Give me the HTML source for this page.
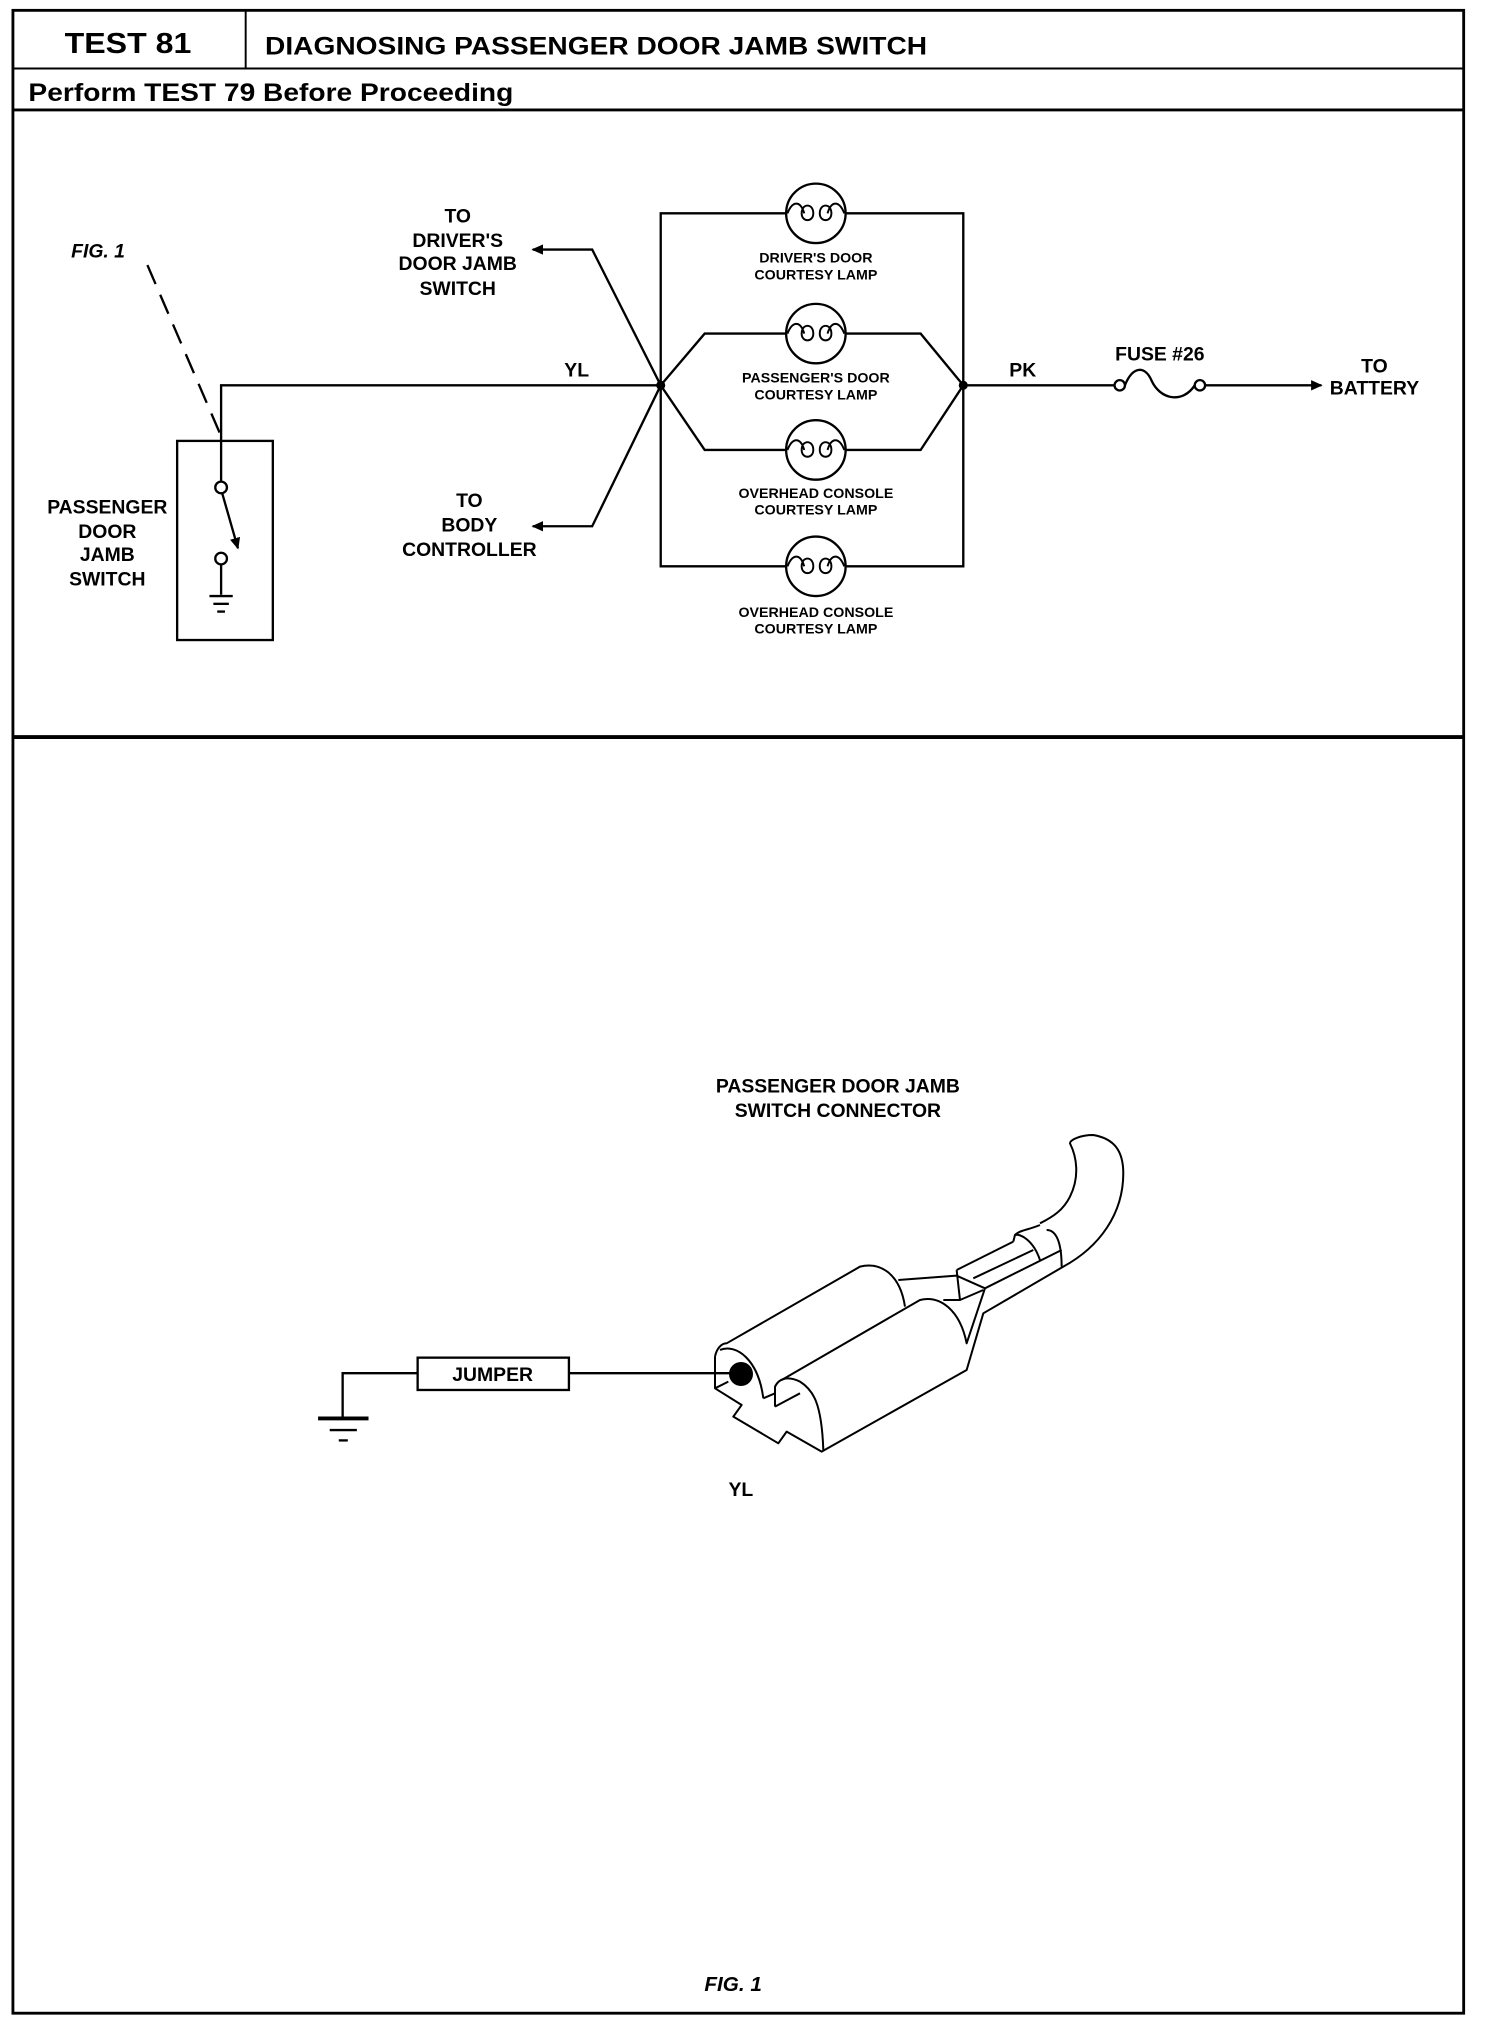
<!DOCTYPE html>
<html><head><meta charset="utf-8"><style>
html,body{margin:0;padding:0;background:#fff;}
svg{display:block;}
text{font-family:"Liberation Sans",sans-serif;font-weight:bold;fill:#000;}
</style></head><body>
<svg width="1504" height="2028" viewBox="0 0 1504 2028" xmlns="http://www.w3.org/2000/svg">
<defs>
<marker id="ah" markerWidth="9" markerHeight="8" refX="8" refY="4" orient="auto" markerUnits="userSpaceOnUse">
<path d="M0,0 L9,4 L0,8 Z" fill="#000"/></marker>
</defs>
<g transform="scale(1.293)">
<!-- frame -->
<rect x="10" y="8" width="1122" height="1549" fill="none" stroke="#000" stroke-width="2.2"/>
<line x1="190" y1="8" x2="190" y2="53" stroke="#000" stroke-width="1.5"/>
<line x1="10" y1="53" x2="1132" y2="53" stroke="#000" stroke-width="1.5"/>
<line x1="10" y1="85" x2="1132" y2="85" stroke="#000" stroke-width="2.2"/>
<line x1="10" y1="570" x2="1132" y2="570" stroke="#000" stroke-width="3"/>
<text x="50" y="41" font-size="22" textLength="98" lengthAdjust="spacingAndGlyphs">TEST 81</text>
<text x="205" y="42" font-size="19" textLength="512" lengthAdjust="spacingAndGlyphs">DIAGNOSING PASSENGER DOOR JAMB SWITCH</text>
<text x="22" y="78" font-size="19" textLength="375" lengthAdjust="spacingAndGlyphs">Perform TEST 79 Before Proceeding</text>

<g stroke="#000" stroke-width="1.8" fill="none">
<rect x="137" y="341" width="74" height="154"/>
<polyline points="511,298 171,298 171,372"/>
<circle cx="171" cy="377" r="4.5"/>
<line x1="172" y1="382" x2="184" y2="424" marker-end="url(#ah)"/>
<circle cx="171" cy="432" r="4.5"/>
<line x1="171" y1="437" x2="171" y2="460"/>
<line x1="162" y1="461" x2="180" y2="461"/>
<line x1="165" y1="467" x2="177" y2="467"/>
<line x1="168" y1="473" x2="174" y2="473"/>
<line x1="114" y1="205" x2="170" y2="335" stroke-dasharray="16,9"/>
<polyline points="511,298 458,193 412,193" marker-end="url(#ah)"/>
<polyline points="511,298 458,407 412,407" marker-end="url(#ah)"/>
<polyline points="608,165 511,165 511,438 608,438"/>
<polyline points="654,165 745,165 745,438 654,438"/>
<polyline points="608,258 545,258 511,298 545,348 608,348"/>
<polyline points="654,258 712,258 745,298 712,348 654,348"/>
<line x1="745" y1="298" x2="862" y2="298"/>
<circle cx="866" cy="298" r="4"/>
<circle cx="928" cy="298" r="4"/>
<path d="M870,298 C876,283 885,283 890,293 C897,310 915,312 924,298"/>
<line x1="932" y1="298" x2="1022" y2="298" marker-end="url(#ah)"/>
</g>
<g fill="#000"><circle cx="511" cy="298" r="3.5"/><circle cx="745" cy="298" r="3.5"/></g>
<g stroke="#000" stroke-width="1.8" fill="#fff">
<circle cx="631" cy="165" r="23"/><circle cx="631" cy="258" r="23"/>
<circle cx="631" cy="348" r="23"/><circle cx="631" cy="438" r="23"/>
</g>
<g stroke="#000" stroke-width="1.5" fill="none">
<path d="M609,165 C613,155 619,155 622,165 M620,165 C620,157 629,157 629,165 C629,172 620,172 620,165 M634,165 C634,157 643,157 643,165 C643,172 634,172 634,165 M640,165 C643,155 649,155 653,165"/>
<path d="M609,258 C613,248 619,248 622,258 M620,258 C620,250 629,250 629,258 C629,265 620,265 620,258 M634,258 C634,250 643,250 643,258 C643,265 634,265 634,258 M640,258 C643,248 649,248 653,258"/>
<path d="M609,348 C613,338 619,338 622,348 M620,348 C620,340 629,340 629,348 C629,355 620,355 620,348 M634,348 C634,340 643,340 643,348 C643,355 634,355 634,348 M640,348 C643,338 649,338 653,348"/>
<path d="M609,438 C613,428 619,428 622,438 M620,438 C620,430 629,430 629,438 C629,445 620,445 620,438 M634,438 C634,430 643,430 643,438 C643,445 634,445 634,438 M640,438 C643,428 649,428 653,438"/>
</g>
<g font-size="11" text-anchor="middle">
<text x="631" y="203">DRIVER'S DOOR</text><text x="631" y="216">COURTESY LAMP</text>
<text x="631" y="296">PASSENGER'S DOOR</text><text x="631" y="309">COURTESY LAMP</text>
<text x="631" y="385">OVERHEAD CONSOLE</text><text x="631" y="398">COURTESY LAMP</text>
<text x="631" y="477">OVERHEAD CONSOLE</text><text x="631" y="490">COURTESY LAMP</text>
</g>
<g font-size="15" text-anchor="middle">
<text x="354" y="172">TO</text><text x="354" y="191">DRIVER'S</text><text x="354" y="209">DOOR JAMB</text><text x="354" y="228">SWITCH</text>
<text x="363" y="392">TO</text><text x="363" y="411">BODY</text><text x="363" y="430">CONTROLLER</text>
<text x="83" y="397">PASSENGER</text><text x="83" y="416">DOOR</text><text x="83" y="434">JAMB</text><text x="83" y="453">SWITCH</text>
<text x="446" y="291">YL</text><text x="791" y="291">PK</text>
<text x="897" y="279">FUSE #26</text>
<text x="1063" y="288">TO</text><text x="1063" y="305">BATTERY</text>
</g>
<text x="55" y="199" font-size="15" font-style="italic">FIG. 1</text>

<g font-size="15" text-anchor="middle">
<text x="648" y="845">PASSENGER DOOR JAMB</text>
<text x="648" y="864">SWITCH CONNECTOR</text>
<text x="573" y="1157">YL</text>
</g>
<text x="567" y="1540" font-size="16" font-style="italic" text-anchor="middle">FIG. 1</text>
<g stroke="#000" stroke-width="1.8" fill="none">
<rect x="323" y="1050" width="117" height="25"/>
<polyline points="323,1062 265,1062 265,1096"/>
<line x1="440" y1="1062" x2="565" y2="1062"/>
<line x1="246" y1="1097" x2="285" y2="1097" stroke-width="3"/>
<line x1="255" y1="1106" x2="276" y2="1106"/>
<line x1="262" y1="1114" x2="269" y2="1114"/>
</g>
<text x="381" y="1068" font-size="15" text-anchor="middle">JUMPER</text>
</g>
<g transform="translate(700,1130) scale(0.3333)" stroke="#000" stroke-width="6" fill="none" stroke-linejoin="round">
<path d="M45,680 L45,775 L125,825 L100,860 L235,940 L260,905 L365,965 L800,720 L850,550 L1090,410 C1200,350 1270,250 1270,130 C1270,60 1240,25 1180,15 C1140,15 1110,30 1110,40 C1130,80 1140,140 1110,200 C1090,240 1060,260 1020,280"/>
<path d="M45,680 C50,655 65,640 80,640 L480,410 C540,395 600,430 615,530"/>
<path d="M60,660 C110,640 175,690 190,805"/>
<path d="M190,805 L225,790"/>
<path d="M225,830 L225,770 C240,740 270,740 300,755 C340,780 365,820 370,960"/>
<path d="M225,830 L300,790"/>
<path d="M245,750 L660,510 C720,495 780,540 800,640 L855,475 L770,437 L595,450"/>
<path d="M770,420 L780,510 L850,480 M730,510 L780,510 M770,420 L940,335 M820,445 L1000,360 M855,475 L1085,360"/>
<path d="M940,335 L945,315 C960,300 985,300 1020,285 M945,315 C960,310 1000,330 1020,390 M1040,300 C1070,300 1085,340 1085,410"/>
<path d="M45,775 L85,755"/>
</g>
<circle cx="741" cy="1374" r="12" fill="#000"/>
</svg>
</body></html>
